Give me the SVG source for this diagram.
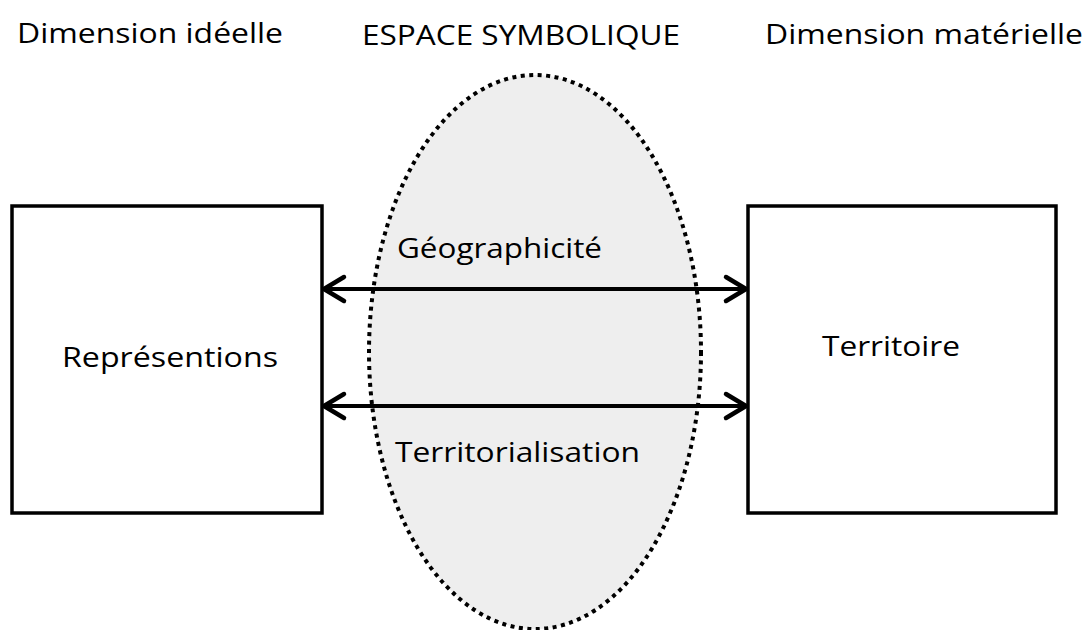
<svg xmlns="http://www.w3.org/2000/svg" width="1089" height="630" viewBox="0 0 1089 630">
<defs>
<style>
text{font-family:"Open Sans","Liberation Sans",sans-serif;font-size:28px;fill:#000;}
.box{fill:#fff;stroke:#000;stroke-width:3.5;}
.conn{stroke:#000;stroke-width:4;fill:none;}
.head{stroke:#000;stroke-width:4.5;fill:none;stroke-linecap:round;stroke-linejoin:round;}
</style>
</defs>
<rect width="1089" height="630" fill="#fff"/>
<g id="titles">
<text x="17" y="43" textLength="266" lengthAdjust="spacingAndGlyphs">Dimension idéelle</text>
<text x="362" y="45" textLength="318" lengthAdjust="spacingAndGlyphs">ESPACE SYMBOLIQUE</text>
<text x="765" y="44" textLength="318" lengthAdjust="spacingAndGlyphs">Dimension matérielle</text>
</g>
<g id="representations">
<rect class="box" x="12" y="206" width="310" height="307"/>
<text x="62" y="367" textLength="216" lengthAdjust="spacingAndGlyphs">Représentions</text>
</g>
<g id="territoire">
<rect class="box" x="748" y="206" width="308" height="307"/>
<text x="822" y="356" textLength="138" lengthAdjust="spacingAndGlyphs">Territoire</text>
</g>
<g id="espace">
<ellipse cx="535" cy="352" rx="166" ry="277" fill="#eeeeee" stroke="#000" stroke-width="4" stroke-dasharray="4 4.5"/>
</g>
<g id="connectors">
<line class="conn" x1="324" y1="289" x2="746" y2="289"/>
<polyline class="head" points="344,277 324,289 344,301"/>
<polyline class="head" points="726,277 746,289 726,301"/>
<line class="conn" x1="324" y1="406" x2="746" y2="406"/>
<polyline class="head" points="344,394 324,406 344,418"/>
<polyline class="head" points="726,394 746,406 726,418"/>
</g>
<g id="labels">
<text x="397" y="258" textLength="205" lengthAdjust="spacingAndGlyphs">Géographicité</text>
<text x="395" y="462" textLength="245" lengthAdjust="spacingAndGlyphs">Territorialisation</text>
</g>
</svg>
